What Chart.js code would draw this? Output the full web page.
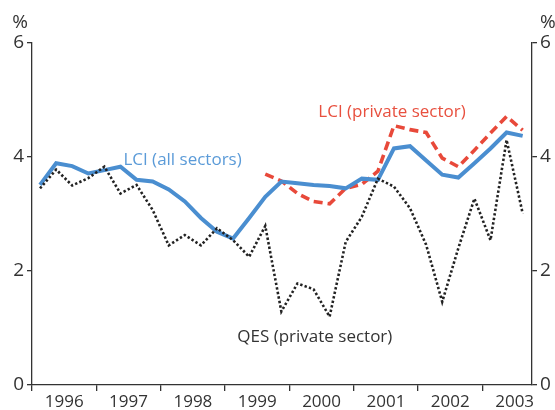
<!DOCTYPE html>
<html>
<head>
<meta charset="utf-8">
<script src="https://cdn.jsdelivr.net/npm/chart.js@4/dist/chart.umd.min.js"></script>
<style>
  html, body { margin: 0; padding: 0; background: #fff; }
  #wrap { width: 555px; height: 410px; }
</style>
</head>
<body>
<div id="wrap"><canvas id="chart"></canvas></div>
<script>
// quarterly data, 1996 Q1 .. 2003 Q3
const firstYear = 1996;
const lastYear = 2003;
const yTicks = [0, 2, 4, 6];

const lciAll = [
  3.51, 3.89, 3.84, 3.71,   // 1996
  3.77, 3.83, 3.60, 3.57,   // 1997
  3.43, 3.22, 2.93, 2.69,   // 1998
  2.57, 2.93, 3.30, 3.57,   // 1999
  3.54, 3.51, 3.49, 3.45,   // 2000
  3.62, 3.60, 4.15, 4.19,   // 2001
  3.94, 3.69, 3.64, 3.89,   // 2002
  4.15, 4.43, 4.37          // 2003
];
const lciPrivate = [
  null, null, null, null,
  null, null, null, null,
  null, null, null, null,
  null, null, 3.70, 3.58,
  3.36, 3.22, 3.18, 3.45,
  3.52, 3.75, 4.55, 4.48,
  4.43, 3.98, 3.83, 4.12,
  4.42, 4.71, 4.47
];
const qes = [
  3.45, 3.78, 3.50, 3.63,
  3.83, 3.36, 3.51, 3.07,
  2.45, 2.63, 2.45, 2.75,
  2.54, 2.25, 2.79, 1.29,
  1.78, 1.68, 1.20, 2.51,
  2.95, 3.62, 3.48, 3.10,
  2.46, 1.46, 2.40, 3.27,
  2.54, 4.30, 3.01
];

// series name labels, anchored in data units
const seriesLabels = [
  { text: 'LCI (all sectors)', x: 1997.42, y: 3.95, color: '#5b9bd8' },
  { text: 'LCI (private sector)', x: 2000.45, y: 4.79, color: '#e8503f' },
  { text: 'QES (private sector)', x: 1999.19, y: 0.84, color: '#333333' }
];

const toPoints = arr => arr.map((v, i) => ({ x: firstYear + (i + 0.5) / 4, y: v }));

const inkColor = '#333333';
const fontFamily = '"Open Sans", "Noto Sans", sans-serif';

const labelPlugin = {
  id: 'labels',
  afterDraw(chart) {
    const ctx = chart.ctx;
    const xs = chart.scales.x;
    const ys = chart.scales.y;
    const ys2 = chart.scales.y2;
    ctx.save();
    ctx.font = '17px ' + fontFamily;
    ctx.textBaseline = 'middle';
    ctx.textAlign = 'left';
    seriesLabels.forEach(l => {
      ctx.fillStyle = l.color;
      ctx.fillText(l.text, xs.getPixelForValue(l.x), ys.getPixelForValue(l.y));
    });
    // "%" unit markers above each axis
    ctx.fillStyle = inkColor;
    ctx.font = '19px ' + fontFamily;
    ctx.textBaseline = 'alphabetic';
    ctx.textAlign = 'right';
    ctx.fillText('%', ys.right - 4, ys.top - 15);
    ctx.textAlign = 'left';
    ctx.fillText('%', ys2.left + 8, ys2.top - 15);
    ctx.restore();
  }
};

const yAxis = (position, width) => ({
  type: 'linear',
  position: position,
  min: 0,
  max: 6,
  afterBuildTicks: s => { s.ticks = yTicks.map(v => ({ value: v })); },
  afterFit: s => { s.width = width; },
  border: { display: true, color: inkColor, width: 1.3 },
  grid: { drawOnChartArea: false, drawTicks: true, tickLength: 5, color: inkColor, lineWidth: 1.3 },
  ticks: { color: inkColor, font: { family: fontFamily, size: 19 }, padding: 3 }
});

new Chart(document.getElementById('chart'), {
  type: 'line',
  data: {
    datasets: [
      {
        label: 'QES (private sector)',
        data: toPoints(qes),
        borderColor: '#222222',
        borderWidth: 2.6,
        borderDash: [2.4, 2.2],
        pointRadius: 0,
        tension: 0
      },
      {
        label: 'LCI (all sectors)',
        data: toPoints(lciAll),
        borderColor: '#4a8ed0',
        borderWidth: 4,
        pointRadius: 0,
        tension: 0
      },
      {
        label: 'LCI (private sector)',
        data: toPoints(lciPrivate),
        borderColor: '#e8493a',
        borderWidth: 3.6,
        borderDash: [9, 5],
        pointRadius: 0,
        tension: 0,
        spanGaps: false
      }
    ]
  },
  options: {
    responsive: true,
    maintainAspectRatio: false,
    animation: false,
    layout: { padding: { top: 43, left: 0, right: 0, bottom: 0 } },
    plugins: { legend: { display: false }, tooltip: { enabled: false } },
    scales: {
      x: {
        type: 'linear',
        min: firstYear,
        max: 2003.77,
        afterBuildTicks: s => {
          const t = [];
          for (let y = firstYear; y <= lastYear; y++) {
            t.push({ value: y });
            t.push({ value: y + 0.5 });
          }
          s.ticks = t;
        },
        afterFit: s => { s.height = 25; },
        border: { display: true, color: inkColor, width: 1.3 },
        grid: {
          drawOnChartArea: false,
          drawTicks: true,
          tickLength: 6,
          lineWidth: 1.3,
          color: c => (c.tick && Number.isInteger(c.tick.value)) ? inkColor : 'rgba(0,0,0,0)'
        },
        ticks: {
          color: inkColor,
          autoSkip: false,
          maxRotation: 0,
          padding: 1,
          font: { family: fontFamily, size: 17 },
          callback: v => Number.isInteger(v) ? '' : String(Math.floor(v))
        }
      },
      y: yAxis('left', 32),
      y2: yAxis('right', 23)
    }
  },
  plugins: [labelPlugin]
});
</script>
</body>
</html>
